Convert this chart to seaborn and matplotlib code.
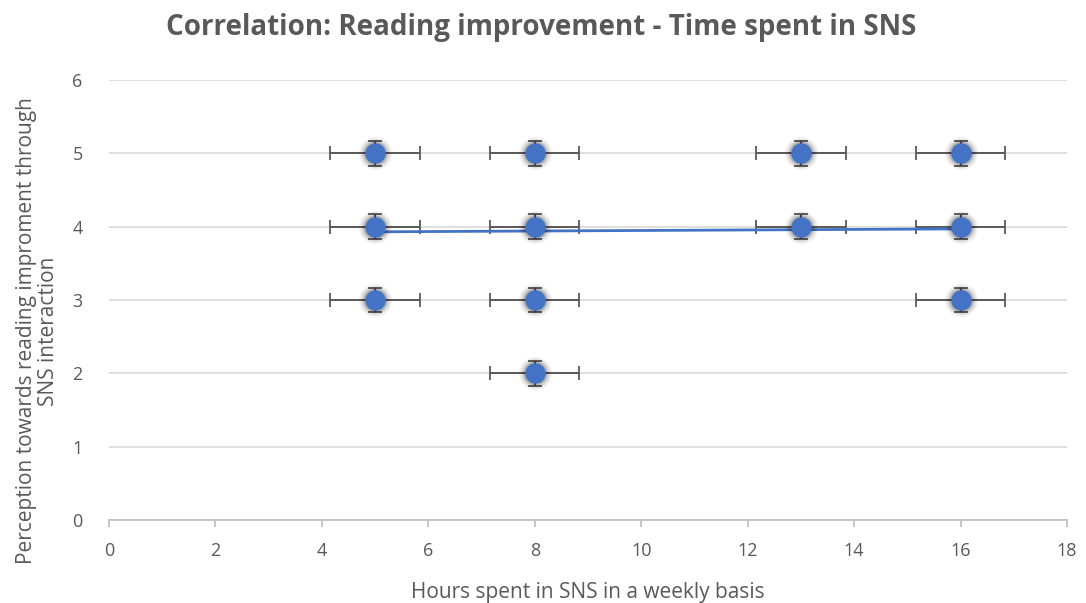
"""
Correlation scatter: reading improvement vs time spent in SNS.
Excel-style scatter with x/y error bars and a linear trendline.
"""

import pandas as pd
import numpy as np
import matplotlib.pyplot as plt
import seaborn as sns

sns.set_theme(style="white")
plt.rcParams["font.family"] = ["Open Sans", "DejaVu Sans"]

# ── Data ─────────────────────────────────────────────────────────────────────
hours = [5, 5, 5, 8, 8, 8, 8, 13, 13, 16, 16, 16]
perception = [5, 4, 3, 5, 4, 3, 2, 5, 4, 5, 4, 3]
x_err = 0.84
y_err = 0.17
trend_x = [5, 16]
trend_y = [3.93, 3.97]
x_ticks = [0, 2, 4, 6, 8, 10, 12, 14, 16, 18]
y_ticks = [0, 1, 2, 3, 4, 5, 6]

df = pd.DataFrame({"hours": hours, "perception": perception})
trend = pd.DataFrame({"hours": trend_x, "perception": trend_y})

blue = "#4472C4"
grey_text = "#595959"

fig = plt.figure(figsize=(10.86, 6.03), dpi=100)
ax = fig.add_axes([0.1004, 0.1376, 0.8821, 0.7297])

# error bars
ax.errorbar(df["hours"], df["perception"], xerr=x_err, yerr=y_err,
            fmt="none", ecolor="#595959", elinewidth=1.4, capsize=5,
            capthick=1.3, zorder=3)

# trendline
sns.lineplot(data=trend, x="hours", y="perception", ax=ax, color=blue,
             linewidth=2, zorder=4)

# soft shadow under the markers
for s, a in [(560, 0.06), (420, 0.10), (300, 0.18)]:
    sns.scatterplot(data=df, x="hours", y="perception", ax=ax, s=s,
                    color="#000000", alpha=a, linewidth=0, zorder=4.5)

sns.scatterplot(data=df, x="hours", y="perception", ax=ax, s=200,
                color=blue, edgecolor=blue, linewidth=0.5, zorder=5)

ax.set_xlim(0, 18)
ax.set_ylim(0, 6)
ax.set_xticks(x_ticks)
ax.set_yticks(y_ticks)
ax.grid(axis="y", color="#D9D9D9", linewidth=1.2)
ax.set_axisbelow(True)
for side in ["top", "right", "left"]:
    ax.spines[side].set_visible(False)
ax.spines["bottom"].set_color("#BFBFBF")
ax.spines["bottom"].set_linewidth(1.2)
ax.tick_params(axis="x", bottom=True, length=5, color="#BFBFBF",
               labelsize=13, labelcolor=grey_text, pad=11)
ax.tick_params(axis="y", left=False, labelsize=13, labelcolor=grey_text,
               pad=13)

ax.set_xlabel("Hours spent in SNS in a weekly basis", fontsize=15,
              color=grey_text, labelpad=16)
ax.set_ylabel("Perception towards reading improment through\nSNS interaction",
              fontsize=15, color=grey_text, linespacing=1.05)
ax.yaxis.set_label_coords(-0.052, 0.43)
fig.text(541 / 1086, 1 - 27 / 603,
         "Correlation: Reading improvement - Time spent in SNS",
         fontsize=20, fontweight="bold", color=grey_text,
         ha="center", va="center")

plt.savefig("out.png", dpi=100)
